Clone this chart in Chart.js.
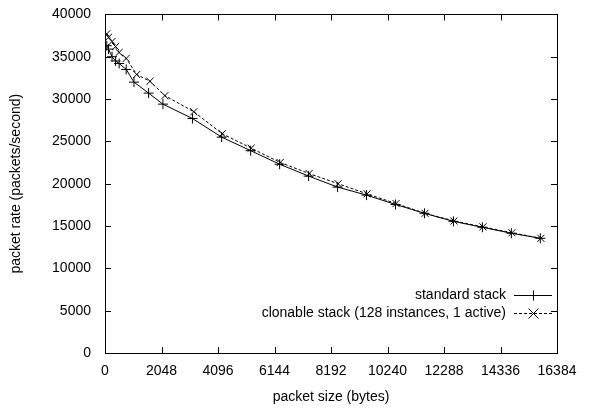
<!DOCTYPE html>
<html>
<head>
<meta charset="utf-8">
<script src="https://cdn.jsdelivr.net/npm/chart.js@4"></script>
<style>
  html, body { margin: 0; padding: 0; background: #fff; }
  #wrap { width: 602px; height: 414px; }
</style>
</head>
<body>
<div id="wrap"><canvas id="chart" width="602" height="414"></canvas></div>
<script>
// packet size (bytes) vs packet rate (packets/second)
const stdSizes = [64, 128, 256, 384, 512, 768, 1050, 1580, 2100, 3170, 4230, 5280, 6330, 7380, 8430, 9480, 10530, 11580, 12630, 13680, 14730, 15780];
const stdRates = [36300, 35900, 35000, 34500, 34200, 33500, 32000, 30700, 29400, 27700, 25500, 23900, 22300, 20900, 19600, 18650, 17550, 16500, 15550, 14850, 14150, 13550];

const cloneSizes = [64, 128, 256, 384, 512, 768, 1150, 1630, 2170, 3220, 4250, 5300, 6350, 7400, 8450, 9500, 10550, 11600, 12650, 13700, 14750, 15800];
const cloneRates = [37700, 37300, 36800, 36200, 35500, 34800, 32900, 32100, 30400, 28500, 25900, 24200, 22500, 21200, 20000, 18800, 17650, 16500, 15600, 14900, 14200, 13550];

const seriesNames = ["standard stack", "clonable stack (128 instances, 1 active)"];

const xTicks = [0, 2048, 4096, 6144, 8192, 10240, 12288, 14336, 16384];
const yTicks = [0, 5000, 10000, 15000, 20000, 25000, 30000, 35000, 40000];

const FONT = "Liberation Sans, Arial, sans-serif";
const FS = 14;

const toPoints = (xs, ys) => xs.map((x, i) => ({ x, y: ys[i] }));

// box border + inward ticks on all four sides, gnuplot style
const framePlugin = {
  id: "frame",
  afterDatasetsDraw(chart) {
    const { ctx, chartArea: a, scales } = chart;
    const len = 6;
    ctx.save();
    ctx.strokeStyle = "#000";
    ctx.lineWidth = 1;
    ctx.beginPath();
    xTicks.forEach(v => {
      const px = Math.round(scales.x.getPixelForValue(v)) + 0.5;
      ctx.moveTo(px, a.bottom); ctx.lineTo(px, a.bottom - len);
      ctx.moveTo(px, a.top); ctx.lineTo(px, a.top + len);
    });
    yTicks.forEach(v => {
      const py = Math.round(scales.y.getPixelForValue(v)) + 0.5;
      ctx.moveTo(a.left, py); ctx.lineTo(a.left + len, py);
      ctx.moveTo(a.right, py); ctx.lineTo(a.right - len, py);
    });
    ctx.stroke();
    ctx.strokeRect(Math.round(a.left) + 0.5, Math.round(a.top) + 0.5,
      Math.round(a.right - a.left), Math.round(a.bottom - a.top));
    ctx.restore();
  }
};

// key in the lower right: text right-justified, then a sample line with its marker
const keyPlugin = {
  id: "key",
  afterDraw(chart) {
    const { ctx, chartArea: a } = chart;
    const lineEnd = a.right - 5;
    const lineStart = lineEnd - 38;
    const textRight = lineStart - 8;
    const rows = [a.bottom - 58, a.bottom - 40];
    ctx.save();
    ctx.font = `${FS}px ${FONT}`;
    ctx.fillStyle = "#000";
    ctx.textAlign = "right";
    ctx.textBaseline = "middle";
    chart.data.datasets.forEach((ds, i) => {
      const y = rows[i] + 0.5;
      ctx.fillText(ds.label, textRight, rows[i]);
      ctx.strokeStyle = "#000";
      ctx.lineWidth = 1;
      ctx.setLineDash(ds.borderDash || []);
      ctx.beginPath();
      ctx.moveTo(lineStart, y); ctx.lineTo(lineEnd, y);
      ctx.stroke();
      ctx.setLineDash([]);
      const cx = Math.round((lineStart + lineEnd) / 2) + 0.5;
      const r = 5;
      ctx.beginPath();
      if (ds.pointStyle === "cross") {
        ctx.moveTo(cx - r, y); ctx.lineTo(cx + r, y);
        ctx.moveTo(cx, y - r); ctx.lineTo(cx, y + r);
      } else {
        ctx.moveTo(cx - r, y - r); ctx.lineTo(cx + r, y + r);
        ctx.moveTo(cx - r, y + r); ctx.lineTo(cx + r, y - r);
      }
      ctx.stroke();
    });
    ctx.restore();
  }
};

new Chart(document.getElementById("chart"), {
  type: "scatter",
  data: {
    datasets: [
      {
        label: seriesNames[0],
        data: toPoints(stdSizes, stdRates),
        showLine: true,
        borderColor: "#000",
        backgroundColor: "#000",
        borderWidth: 1,
        pointStyle: "cross",
        pointRadius: 5,
        pointBorderWidth: 1,
        pointBorderColor: "#000",
      },
      {
        label: seriesNames[1],
        data: toPoints(cloneSizes, cloneRates),
        showLine: true,
        borderColor: "#000",
        backgroundColor: "#000",
        borderWidth: 1,
        borderDash: [3, 2],
        pointStyle: "crossRot",
        pointRadius: 5,
        pointBorderWidth: 1,
        pointBorderColor: "#000",
      },
    ],
  },
  options: {
    responsive: false,
    animation: false,
    layout: { padding: { left: 0, top: 13, right: 45, bottom: 0 } },
    plugins: {
      legend: { display: false },
      tooltip: { enabled: false },
    },
    scales: {
      x: {
        type: "linear",
        min: 0,
        max: 16384,
        afterBuildTicks: (s) => { s.ticks = xTicks.map(v => ({ value: v })); },
        afterFit: (s) => { s.height = 61; },
        ticks: { color: "#000", font: { family: FONT, size: FS }, padding: 2, maxRotation: 0, callback: v => String(v) },
        grid: { display: false },
        border: { display: false },
        title: { display: true, text: "packet size (bytes)", color: "#000", font: { family: FONT, size: FS }, padding: { bottom: 8 } },
      },
      y: {
        min: 0,
        max: 40000,
        afterBuildTicks: (s) => { s.ticks = yTicks.map(v => ({ value: v })); },
        afterFit: (s) => { s.width = 105; },
        ticks: { color: "#000", font: { family: FONT, size: FS }, padding: 6, callback: v => String(v) },
        grid: { display: false },
        border: { display: false },
        title: { display: true, text: "packet rate (packets/second)", color: "#000", font: { family: FONT, size: FS }, padding: { top: 8 } },
      },
    },
  },
  plugins: [framePlugin, keyPlugin],
});
</script>
</body>
</html>
